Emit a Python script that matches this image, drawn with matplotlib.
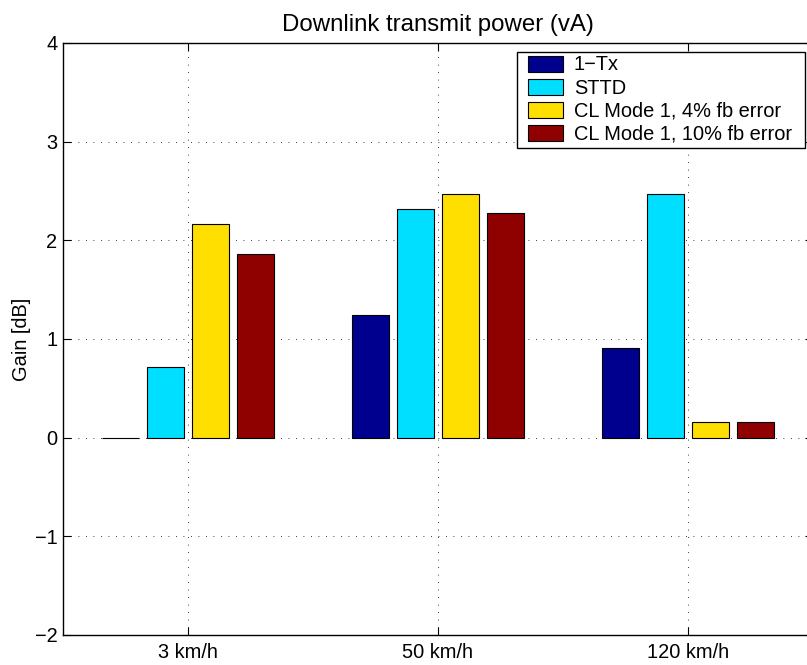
import numpy as np
import matplotlib
matplotlib.use('Agg')
import matplotlib.pyplot as plt
from matplotlib.patches import Rectangle
from matplotlib.transforms import IdentityTransform

plt.rcParams['font.family'] = ['Liberation Sans', 'DejaVu Sans']
plt.rcParams['font.size'] = 14.4

# values (gain in dB)
speeds = ['3 km/h', '50 km/h', '120 km/h']
series_names = ['1\u2212Tx', 'STTD', 'CL Mode 1, 4% fb error', 'CL Mode 1, 10% fb error']
tx1 = [0.0, 1.24, 0.91]
sttd = [0.72, 2.32, 2.47]
cl_4 = [2.17, 2.47, 0.155]
cl_10 = [1.86, 2.28, 0.155]
colors = ['#00008F', '#00DFFF', '#FFDF00', '#8F0000']

fig = plt.figure(figsize=(8.07, 6.65), dpi=100)
# axes run a bit past the right border, as in the cropped original
ax = fig.add_axes([63/807, 1-635/665, 750/807, 592/665])

x = np.arange(1, len(speeds)+1)
step = 0.181
width = 0.148
for i, (vals, name) in enumerate(zip([tx1, sttd, cl_4, cl_10], series_names)):
    off = (i-1.5)*step
    ax.bar(x+off, vals, width, color=colors[i], edgecolor='black', linewidth=0.8, label=name, zorder=3)

ax.set_xlim(0.5, 3.5)
ax.set_ylim(-2, 4)
ax.set_xticks(x)
ax.set_xticklabels(speeds)
ax.set_yticks(range(-2, 5))
ax.set_yticklabels([str(v).replace('-', '\u2212') for v in range(-2, 5)])
ax.tick_params(direction='in', length=5.5, width=0.8, top=True, right=True)
ax.tick_params(axis='y', pad=4)
ax.tick_params(axis='x', pad=6)
ax.grid(True, linestyle=(0, (1, 8)), color='black', linewidth=0.6, zorder=0)
ax.set_axisbelow(True)
for sp in ax.spines.values():
    sp.set_linewidth(1.0)

ax.set_ylabel('Gain [dB]', labelpad=3)
ax.set_title('Downlink transmit power (vA)', pad=9)

leg = ax.legend(loc='upper right', bbox_to_anchor=(729/750, 579.5/592), borderaxespad=0,
                frameon=False, handlelength=1.75, handleheight=0.85, handletextpad=0.55,
                labelspacing=0.2, borderpad=0)
leg.set_zorder(6)

# MATLAB-like legend box: wider padding left/right than top/bottom
fig.canvas.draw()
bb = leg.get_window_extent()
box = Rectangle((bb.x0-11, bb.y0-4), bb.width+24, bb.height+8, transform=IdentityTransform(),
                facecolor='white', edgecolor='black', linewidth=1.0, zorder=5.5, clip_on=False)
ax.add_patch(box)

fig.savefig('out.png', dpi=100)
